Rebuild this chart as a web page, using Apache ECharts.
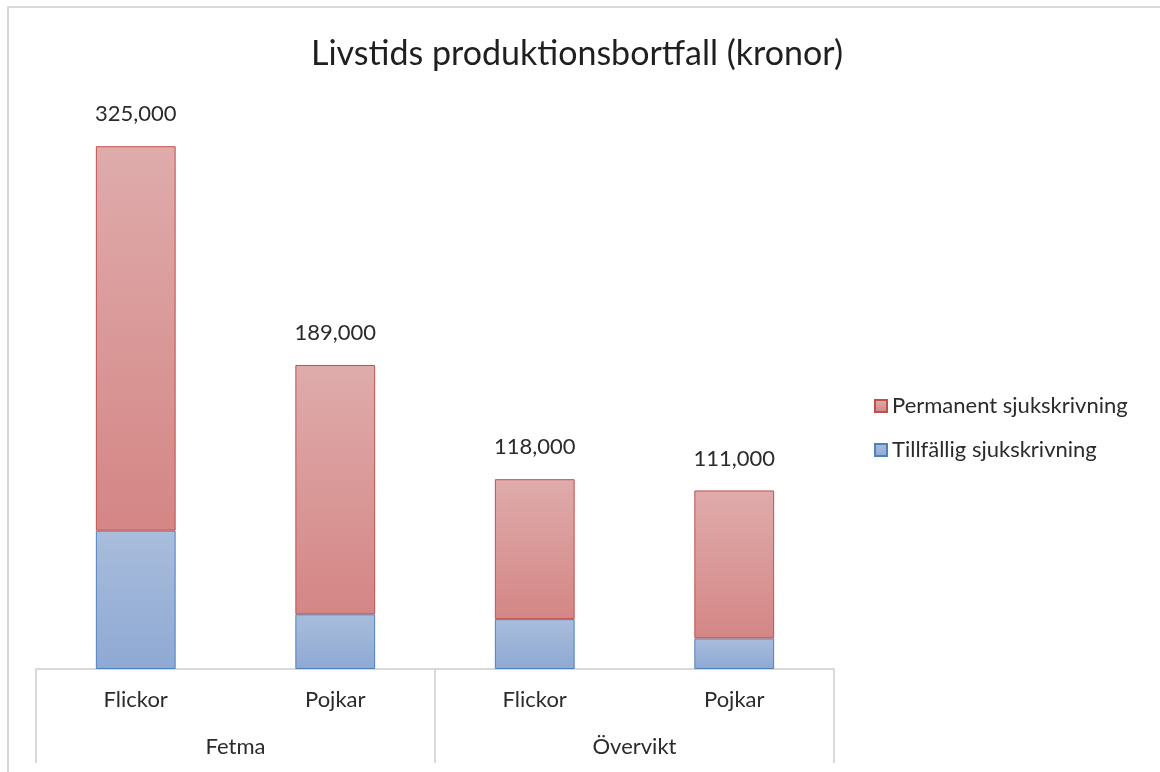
<!DOCTYPE html>
<html>
<head>
<meta charset="utf-8">
<script src="https://cdn.jsdelivr.net/npm/echarts@6/dist/echarts.min.js"></script>
<style>
  html, body { margin: 0; padding: 0; background: #fff; }
  #main { width: 1160px; height: 772px; }
</style>
</head>
<body>
<div id="main"></div>
<script>
// kategorier (två nivåer)
var kategorier = ['Flickor', 'Pojkar', 'Flickor', 'Pojkar'];
var grupper = ['Fetma', 'Övervikt'];

// värden i kronor
var tillfallig = [86000, 34000, 31000, 19000];
var permanent = [239000, 155000, 87000, 92000];

var FONT = 'Lato';
var TEXT = '#2b2b2b';

var chart = echarts.init(document.getElementById('main'));

function grad(top, bottom) {
  return new echarts.graphic.LinearGradient(0, 0, 0, 1, [
    { offset: 0, color: top },
    { offset: 1, color: bottom }
  ]);
}

var option = {
  backgroundColor: '#ffffff',
  animation: false,
  title: {
    text: 'Livstids produktionsbortfall (kronor)',
    left: 572,
    textAlign: 'center',
    top: 32,
    textStyle: {
      fontFamily: FONT,
      fontSize: 34,
      fontWeight: 'normal',
      color: '#1f1f1f'
    }
  },
  graphic: [{
    type: 'rect',
    shape: { x: 8, y: 7, width: 1300, height: 900 },
    style: { fill: 'none', stroke: '#d9d9d9', lineWidth: 2 },
    silent: true
  }],
  legend: {
    orient: 'vertical',
    left: 874,
    top: 395,
    padding: 0,
    itemWidth: 12,
    itemHeight: 12,
    itemGap: 22,
    icon: 'rect',
    data: ['Permanent sjukskrivning', 'Tillfällig sjukskrivning'],
    textStyle: { fontFamily: FONT, fontSize: 22, color: TEXT }
  },
  grid: { left: 36, right: 326, top: 106, bottom: 103 },
  xAxis: [{
    type: 'category',
    data: kategorier,
    position: 'bottom',
    axisLine: { show: true, lineStyle: { color: '#d9d9d9', width: 2 } },
    axisTick: { show: false },
    axisLabel: { margin: 20, fontFamily: FONT, fontSize: 22, color: TEXT }
  }, {
    type: 'category',
    data: grupper,
    position: 'bottom',
    axisLine: { show: false },
    axisTick: { show: true, length: 94, lineStyle: { color: '#d9d9d9', width: 2 } },
    axisLabel: { margin: 67, fontFamily: FONT, fontSize: 22, color: TEXT }
  }],
  yAxis: {
    type: 'value',
    min: 0,
    max: 350000,
    show: false,
    splitLine: { show: false }
  },
  series: [{
    name: 'Tillfällig sjukskrivning',
    type: 'bar',
    stack: 'total',
    barWidth: '40%',
    data: tillfallig,
    itemStyle: {
      color: grad('#a9bddc', '#8ea9d4'),
      borderColor: '#4f81bd',
      borderWidth: 1
    }
  }, {
    name: 'Permanent sjukskrivning',
    type: 'bar',
    stack: 'total',
    barWidth: '40%',
    data: permanent,
    itemStyle: {
      color: grad('#dfabab', '#d48685'),
      borderColor: '#c0504d',
      borderWidth: 1
    },
    label: {
      show: true,
      position: 'top',
      distance: 21,
      fontFamily: FONT,
      fontSize: 22,
      color: TEXT,
      formatter: function (p) {
        var sum = tillfallig[p.dataIndex] + permanent[p.dataIndex];
        return sum.toLocaleString('en-US');
      }
    }
  }]
};

chart.setOption(option);
</script>
</body>
</html>
